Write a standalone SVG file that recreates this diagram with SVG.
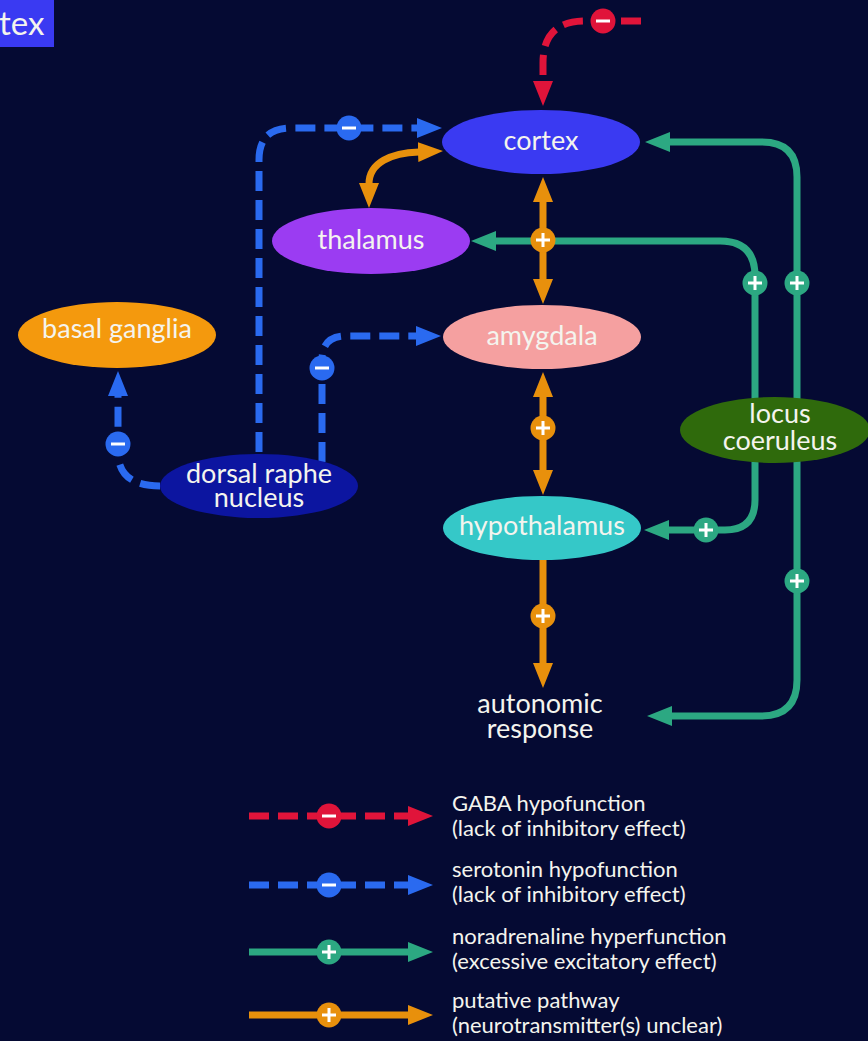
<svg xmlns="http://www.w3.org/2000/svg" xmlns:xlink="http://www.w3.org/1999/xlink" width="868" height="1041" viewBox="0 0 868 1041">
<style>
.lbl{font-family:Lato,"Open Sans","DejaVu Sans",sans-serif;font-size:27px;fill:#f4f4ee;text-anchor:middle}
.leg{font-family:Lato,"Open Sans","DejaVu Sans",sans-serif;font-size:22px;fill:#f4f4ee}
.ln{fill:none;stroke-width:7}
.red{stroke:#e0143a;stroke-dasharray:20 9}
.blue{stroke:#2a6af0;stroke-dasharray:20 9}
.green{stroke:#2ca882}
.orange{stroke:#e8900c}
.sym{fill:none;stroke:#fff;stroke-width:3}
</style>
<defs>
<marker id="aR" markerUnits="userSpaceOnUse" markerWidth="25" markerHeight="20" viewBox="0 0 25 20" refX="1" refY="10" orient="auto-start-reverse"><path d="M0,0 L25,10 L0,20 z" fill="#e0143a"/></marker>
<marker id="aB" markerUnits="userSpaceOnUse" markerWidth="25" markerHeight="20" viewBox="0 0 25 20" refX="1" refY="10" orient="auto-start-reverse"><path d="M0,0 L25,10 L0,20 z" fill="#2a6af0"/></marker>
<marker id="aG" markerUnits="userSpaceOnUse" markerWidth="25" markerHeight="20" viewBox="0 0 25 20" refX="1" refY="10" orient="auto-start-reverse"><path d="M0,0 L25,10 L0,20 z" fill="#2ca882"/></marker>
<marker id="aO" markerUnits="userSpaceOnUse" markerWidth="25" markerHeight="20" viewBox="0 0 25 20" refX="1" refY="10" orient="auto-start-reverse"><path d="M0,0 L25,10 L0,20 z" fill="#e8900c"/></marker>
<g id="plus"><circle r="12.5"/><path class="sym" d="M-7,0H7M0,-7V7"/></g>
<g id="minus"><circle r="12.5"/><path class="sym" d="M-7,0H7"/></g>
</defs>
<rect width="868" height="1041" fill="#050a33"/>
<g id="title-fragment">
<rect x="0" y="0" width="54" height="47" fill="#3a3af2"/>
<text x="-1" y="35" class="lbl" style="text-anchor:start;font-size:33px">tex</text>
</g>
<g id="connectors">
<path class="ln red" d="M641,21 H585 Q543,21 543,63 V82" marker-end="url(#aR)"/>
<path class="ln blue" d="M259,452 V160 Q259,128 291,128 H418" marker-end="url(#aB)"/>
<path class="ln blue" d="M322,462 V360 Q322,336 346,336 H417" marker-end="url(#aB)"/>
<path class="ln blue" d="M160,486 Q118,486 118,452 V395" marker-end="url(#aB)"/>
<path class="ln green" d="M797,400 V177 Q797,142 762,142 H669" marker-end="url(#aG)"/>
<path class="ln green" d="M755,400 V276 Q755,241 720,241 H495" marker-end="url(#aG)"/>
<path class="ln green" d="M755,460 V500 Q755,530 725,530 H668" marker-end="url(#aG)"/>
<path class="ln green" d="M797,460 V680 Q797,716 761,716 H671" marker-end="url(#aG)"/>
<path class="ln orange" d="M419,152 C392,153 369,162 369,184" marker-start="url(#aO)" marker-end="url(#aO)"/>
<path class="ln orange" d="M543,201 V280" marker-start="url(#aO)" marker-end="url(#aO)"/>
<path class="ln orange" d="M543,396 V471" marker-start="url(#aO)" marker-end="url(#aO)"/>
<path class="ln orange" d="M543,558 V664" marker-end="url(#aO)"/>
<use xlink:href="#minus" x="603" y="21" fill="#e0143a"/>
<use xlink:href="#minus" x="349" y="128" fill="#2a6af0"/>
<use xlink:href="#minus" x="322" y="368" fill="#2a6af0"/>
<use xlink:href="#minus" x="118" y="444" fill="#2a6af0"/>
<use xlink:href="#plus" x="755" y="283" fill="#2ca882"/>
<use xlink:href="#plus" x="797" y="283" fill="#2ca882"/>
<use xlink:href="#plus" x="706" y="530" fill="#2ca882"/>
<use xlink:href="#plus" x="797" y="581" fill="#2ca882"/>
<use xlink:href="#plus" x="543" y="240" fill="#e8900c"/>
<use xlink:href="#plus" x="543" y="428" fill="#e8900c"/>
<use xlink:href="#plus" x="543" y="616" fill="#e8900c"/>
</g>
<g id="cortex"><ellipse cx="541" cy="142" rx="99" ry="32" fill="#3a3af2"/><text x="541" y="150" class="lbl">cortex</text></g>
<g id="thalamus"><ellipse cx="371" cy="241" rx="99" ry="33" fill="#9b3cf2"/><text x="371" y="249" class="lbl">thalamus</text></g>
<g id="amygdala"><ellipse cx="542" cy="337" rx="99" ry="32" fill="#f5a0a0"/><text x="542" y="345" class="lbl">amygdala</text></g>
<g id="hypothalamus"><ellipse cx="542" cy="528" rx="99" ry="32" fill="#35c8c8"/><text x="542" y="535" class="lbl">hypothalamus</text></g>
<g id="basal-ganglia"><ellipse cx="117" cy="335" rx="99" ry="33" fill="#f4990d"/><text x="117" y="338" class="lbl">basal ganglia</text></g>
<g id="dorsal-raphe"><ellipse cx="259" cy="486" rx="99" ry="32" fill="#0c15a0"/><text x="259" y="483" class="lbl">dorsal raphe</text><text x="259" y="507" class="lbl">nucleus</text></g>
<g id="locus-coeruleus"><ellipse cx="775" cy="430" rx="95" ry="33" fill="#2f6a0c"/><text x="780" y="423" class="lbl">locus</text><text x="780" y="450" class="lbl">coeruleus</text></g>
<g id="autonomic-response"><text x="540" y="713" class="lbl">autonomic</text><text x="540" y="738" class="lbl">response</text></g>
<g id="legend">
<path class="ln red" d="M249,816 H409" marker-end="url(#aR)"/>
<use xlink:href="#minus" x="329" y="816" fill="#e0143a"/>
<text x="452" y="811" class="leg">GABA hypofunction</text>
<text x="452" y="836" class="leg">(lack of inhibitory effect)</text>
<path class="ln blue" d="M249,885 H409" marker-end="url(#aB)"/>
<use xlink:href="#minus" x="329" y="885" fill="#2a6af0"/>
<text x="452" y="877" class="leg">serotonin hypofunction</text>
<text x="452" y="902" class="leg">(lack of inhibitory effect)</text>
<path class="ln green" d="M249,952 H409" marker-end="url(#aG)"/>
<use xlink:href="#plus" x="329" y="952" fill="#2ca882"/>
<text x="452" y="944" class="leg">noradrenaline hyperfunction</text>
<text x="452" y="969" class="leg">(excessive excitatory effect)</text>
<path class="ln orange" d="M249,1015 H409" marker-end="url(#aO)"/>
<use xlink:href="#plus" x="329" y="1015" fill="#e8900c"/>
<text x="452" y="1008" class="leg">putative pathway</text>
<text x="452" y="1033" class="leg">(neurotransmitter(s) unclear)</text>
</g>
</svg>
